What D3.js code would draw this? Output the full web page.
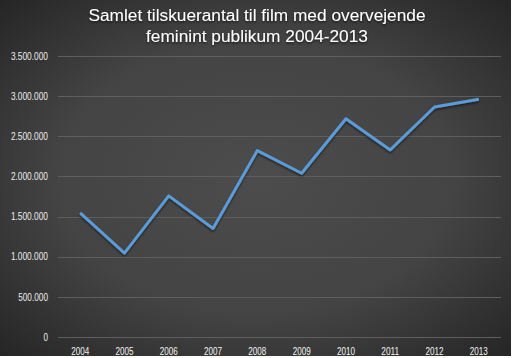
<!DOCTYPE html>
<html><head><meta charset="utf-8">
<script src="https://cdn.jsdelivr.net/npm/d3@7"></script>
<style>body{margin:0;background:#fff;}svg{display:block;}</style>
</head><body>
<script>
const years = ["2004","2005","2006","2007","2008","2009","2010","2011","2012","2013"];
const viewers = [1545000,1045000,1758000,1352000,2322000,2040000,2718000,2330000,2865000,2962000];
const yTicks = [0,500000,1000000,1500000,2000000,2500000,3000000,3500000];
const titleLines = ["Samlet tilskuerantal til film med overvejende","feminint publikum 2004-2013"];

const W=513,H=358;
const svg=d3.select("body").append("svg").attr("width",W).attr("height",H);
const defs=svg.append("defs");
const rg=defs.append("radialGradient").attr("id","bg").attr("cx","50%").attr("cy","50%").attr("r","70%");
rg.append("stop").attr("offset","0%").attr("stop-color","#4c4c4c");
rg.append("stop").attr("offset","55%").attr("stop-color","#444444");
rg.append("stop").attr("offset","100%").attr("stop-color","#262626");
const f=defs.append("filter").attr("id","sh").attr("x","-10%").attr("y","-10%").attr("width","120%").attr("height","130%");
f.append("feDropShadow").attr("dx",0).attr("dy",1.5).attr("stdDeviation",1.2).attr("flood-color","#000").attr("flood-opacity",0.6);

svg.append("rect").attr("width",511).attr("height",356).attr("fill","url(#bg)");

const x=d3.scaleBand().domain(years).range([58,501]);
const y=d3.scaleLinear().domain([0,3500000]).range([337,56]);
const fmt=d=>d3.format(",")(d).replace(/,/g,".");
const tw=s=>[...s].reduce((a,c)=>a+(c==="."?2.8:4.5),0);

svg.append("g").selectAll("line").data(yTicks).join("line")
  .attr("x1",58).attr("x2",501).attr("y1",d=>Math.round(y(d))+0.5).attr("y2",d=>Math.round(y(d))+0.5)
  .attr("stroke","#5e5e5e").attr("stroke-width",1);

const tf='"Liberation Sans",Arial,sans-serif';
svg.append("g").selectAll("text").data(yTicks).join("text")
  .attr("x",48).attr("y",d=>y(d)).attr("dy","0.36em").attr("text-anchor","end")
  .attr("fill","#ececec").attr("font-family",tf).attr("font-size",10.5)
  .attr("textLength",d=>tw(fmt(d))).attr("lengthAdjust","spacingAndGlyphs").text(fmt);

svg.append("g").selectAll("text").data(years).join("text")
  .attr("x",d=>x(d)+x.bandwidth()/2).attr("y",354.5).attr("text-anchor","middle")
  .attr("fill","#f2f2f2").attr("font-family",tf).attr("font-size",10.5)
  .attr("textLength",d=>tw(d)).attr("lengthAdjust","spacingAndGlyphs").text(d=>d);

const line=d3.line().x((d,i)=>x(years[i])+x.bandwidth()/2).y(d=>y(d));
svg.append("path").datum(viewers).attr("d",line).attr("fill","none")
  .attr("stroke","#5b9bd5").attr("stroke-width",3).attr("stroke-linejoin","round").attr("filter","url(#sh)");

svg.append("g").selectAll("text").data(titleLines).join("text")
  .attr("x",257).attr("y",(d,i)=>21+i*21).attr("text-anchor","middle")
  .attr("fill","#ffffff").attr("font-family",'"Liberation Sans",Arial,sans-serif').attr("font-size",17.3)
  .attr("filter","url(#sh)").text(d=>d);
</script>
</body></html>
